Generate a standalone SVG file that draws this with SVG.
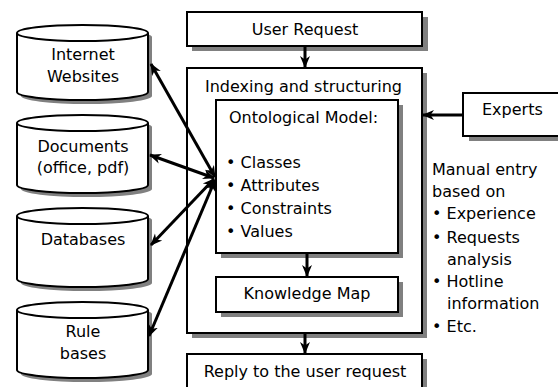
<svg xmlns="http://www.w3.org/2000/svg" width="558" height="387" viewBox="0 0 558 387">
<defs>
<style>
.box{fill:#fff;stroke:#000;stroke-width:2}
.sh{fill:#808080}
.t{font-family:"DejaVu Sans",sans-serif;font-size:16px;fill:#000}
.m{text-anchor:middle}
.ln{stroke:#000;stroke-width:3;fill:none}
</style>
<marker id="ah" viewBox="0 0 12 10" refX="11" refY="5" markerWidth="4" markerHeight="4" markerUnits="strokeWidth" orient="auto-start-reverse">
<path d="M0,0 L12,5 L0,10 L3.5,5 z" fill="#000"/>
</marker>
<g id="cyl">
<path class="sh" d="M4,12 A65.5,8 0 0 1 135,12 L135,71 A65.5,8 0 0 1 4,71 z" transform="translate(4,4)"/>
</g>
</defs>
<rect width="558" height="387" fill="#fff"/>

<g id="internet">
<path class="sh" d="M21,37 A65.5,8 0 0 1 152,37 L152,96 A65.5,8 0 0 1 21,96 z"/>
<path class="box" d="M17,33 A65.5,8 0 0 1 148,33 L148,92 A65.5,8 0 0 1 17,92 z"/>
<path class="box" d="M17,33 A65.5,8 0 0 0 148,33" fill="none"/>
<text class="t m" x="83" y="60">Internet</text>
<text class="t m" x="83" y="82">Websites</text>
</g>
<g id="documents">
<path class="sh" d="M21,127 A65.5,8 0 0 1 152,127 L152,189 A65.5,8 0 0 1 21,189 z"/>
<path class="box" d="M17,123 A65.5,8 0 0 1 148,123 L148,185 A65.5,8 0 0 1 17,185 z"/>
<path class="box" d="M17,123 A65.5,8 0 0 0 148,123" fill="none"/>
<text class="t m" x="83" y="152">Documents</text>
<text class="t m" x="83" y="173">(office, pdf)</text>
</g>
<g id="databases">
<path class="sh" d="M21,220 A65.5,8 0 0 1 152,220 L152,283 A65.5,8 0 0 1 21,283 z"/>
<path class="box" d="M17,216 A65.5,8 0 0 1 148,216 L148,279 A65.5,8 0 0 1 17,279 z"/>
<path class="box" d="M17,216 A65.5,8 0 0 0 148,216" fill="none"/>
<text class="t m" x="83" y="245">Databases</text>
</g>
<g id="rulebases">
<path class="sh" d="M21,314 A65.5,8 0 0 1 152,314 L152,374 A65.5,8 0 0 1 21,374 z"/>
<path class="box" d="M17,310 A65.5,8 0 0 1 148,310 L148,370 A65.5,8 0 0 1 17,370 z"/>
<path class="box" d="M17,310 A65.5,8 0 0 0 148,310" fill="none"/>
<text class="t m" x="83" y="337">Rule</text>
<text class="t m" x="83" y="359">bases</text>
</g>

<g id="userrequest">
<rect class="sh" x="192" y="17" width="236" height="34"/>
<rect class="box" x="187" y="12" width="235" height="34"/>
<text class="t m" x="305" y="35">User Request</text>
</g>

<g id="indexing">
<rect class="sh" x="192" y="73" width="235" height="265"/>
<rect class="box" x="187" y="68" width="235" height="265"/>
<text class="t" x="205" y="92">Indexing and structuring</text>
</g>

<g id="ontology">
<rect class="sh" x="221" y="105" width="182" height="153"/>
<rect class="box" x="216" y="100" width="182" height="153"/>
<text class="t" x="229" y="123">Ontological Model:</text>
<text class="t" x="226" y="168">• Classes</text>
<text class="t" x="226" y="191">• Attributes</text>
<text class="t" x="226" y="214">• Constraints</text>
<text class="t" x="226" y="237">• Values</text>
</g>

<g id="knowledgemap">
<rect class="sh" x="221" y="282" width="182" height="35"/>
<rect class="box" x="216" y="277" width="182" height="35"/>
<text class="t m" x="307" y="299">Knowledge Map</text>
</g>

<g id="reply">
<rect class="sh" x="192" y="359" width="235" height="40"/>
<rect class="box" x="187" y="354" width="235" height="40"/>
<text class="t m" x="305" y="377">Reply to the user request</text>
</g>

<g id="experts">
<rect class="sh" x="469" y="98" width="100" height="43"/>
<rect class="box" x="463" y="93" width="100" height="43"/>
<text class="t" x="482" y="115">Experts</text>
</g>

<g id="manual">
<text class="t" x="432" y="175">Manual entry</text>
<text class="t" x="432" y="197">based on</text>
<text class="t" x="432" y="219">• Experience</text>
<text class="t" x="432" y="243">• Requests</text>
<text class="t" x="447" y="265">analysis</text>
<text class="t" x="432" y="287">• Hotline</text>
<text class="t" x="447" y="309">information</text>
<text class="t" x="432" y="332">• Etc.</text>
</g>

<g id="connectors">
<line class="ln" x1="305" y1="46" x2="305" y2="67" marker-end="url(#ah)"/>
<line class="ln" x1="307" y1="253" x2="307" y2="276" marker-end="url(#ah)"/>
<line class="ln" x1="305" y1="333" x2="305" y2="353" marker-end="url(#ah)"/>
<line class="ln" x1="463" y1="115" x2="423" y2="115" marker-end="url(#ah)"/>
<line class="ln" x1="215" y1="177" x2="151" y2="64" marker-start="url(#ah)" marker-end="url(#ah)"/>
<line class="ln" x1="214" y1="178" x2="150" y2="155" marker-start="url(#ah)" marker-end="url(#ah)"/>
<line class="ln" x1="214" y1="179" x2="151" y2="245" marker-start="url(#ah)" marker-end="url(#ah)"/>
<line class="ln" x1="215" y1="180" x2="149" y2="336" marker-start="url(#ah)" marker-end="url(#ah)"/>
</g>
</svg>
